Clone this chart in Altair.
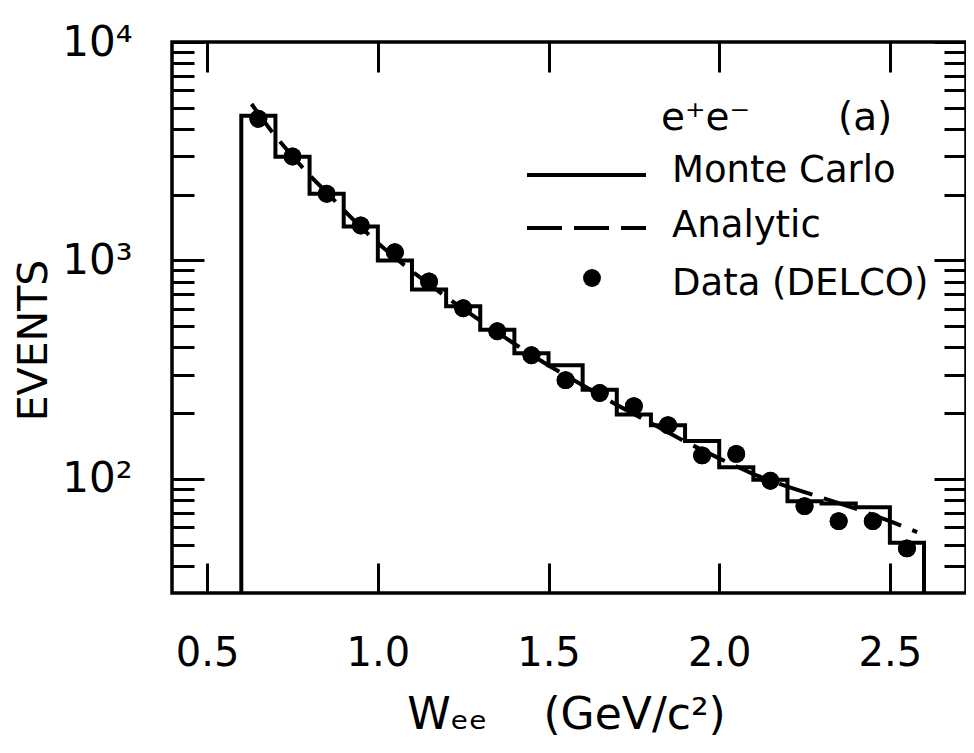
import altair as alt
import pandas as pd

# Monte Carlo histogram: bin lower edges and counts (bin width 0.1)
mc_bin_lo = [0.6, 0.7, 0.8, 0.9, 1.0, 1.1, 1.2, 1.3, 1.4, 1.5,
             1.6, 1.7, 1.8, 1.9, 2.0, 2.1, 2.2, 2.3, 2.4, 2.5]
mc_counts = [4590, 2985, 2020, 1430, 1000, 735, 617, 481, 376, 331,
             256, 197, 176, 149, 113, 99, 79, 77, 74, 51]
mc_end = 2.6
hist_floor = 30

# Analytic curve
ana_x = [0.63, 0.65, 0.7, 0.75, 0.8, 0.85, 0.9, 0.95, 1.0, 1.05, 1.1, 1.15, 1.2,
         1.3, 1.4, 1.5, 1.6, 1.7, 1.8, 1.9, 2.0, 2.1, 2.2, 2.3, 2.4, 2.5, 2.58]
ana_y = [5200, 4700, 3700, 3000, 2450, 2050, 1700, 1420, 1200, 1030, 890, 780, 680,
         530, 415, 330, 268, 218, 180, 148, 124, 105, 92, 82, 73, 64, 57]

# Data (DELCO)
data_x = [0.65, 0.75, 0.85, 0.95, 1.05, 1.15, 1.25, 1.35, 1.45, 1.55,
          1.65, 1.75, 1.85, 1.95, 2.05, 2.15, 2.25, 2.35, 2.45, 2.55]
data_y = [4450, 2990, 2020, 1445, 1090, 800, 604, 474, 368, 283,
          247, 215, 176, 128, 130, 98, 75, 64, 64, 48]

x_domain = [0.397, 2.723]
y_domain = [30, 10000]
x_ticks = [0.5, 1.0, 1.5, 2.0, 2.5]
y_major = [100, 1000, 10000]
y_minor = [40, 50, 60, 70, 80, 90, 200, 300, 400, 500, 600, 700, 800, 900,
           2000, 3000, 4000, 5000, 6000, 7000, 8000, 9000]

# build step outline
rows = [{"x": mc_bin_lo[0], "y": hist_floor}]
for lo, c in zip(mc_bin_lo, mc_counts):
    rows.append({"x": lo, "y": c})
rows.append({"x": mc_end, "y": mc_counts[-1]})
rows.append({"x": mc_end, "y": hist_floor})
for i, r in enumerate(rows):
    r["i"] = i
hist_df = pd.DataFrame(rows)
ana_df = pd.DataFrame({"x": ana_x, "y": ana_y})
data_df = pd.DataFrame({"x": data_x, "y": data_y})

FONT = "DejaVu Sans"
NB = "\u00a0"
xs = alt.Scale(type="linear", domain=x_domain, nice=False, zero=False)
ys = alt.Scale(type="log", domain=y_domain, nice=False)

ax_bottom = alt.Axis(orient="bottom", values=x_ticks, format=".1f", tickSize=30, offset=-30,
                     labelPadding=40, labelFontSize=40, labelFont=FONT,
                     title="Wₑₑ" + NB * 4 + "(GeV/c²)", titleFontSize=44, titleFont=FONT,
                     titleFontWeight="normal", titleX=394, titleY=165,
                     titleBaseline="alphabetic", titleAlign="center")
ax_top = alt.Axis(orient="top", values=x_ticks, tickSize=30, offset=-30,
                  labels=False, title=None)
ax_left_major = alt.Axis(orient="left", values=y_major, tickSize=32, offset=-32,
                         labelPadding=40, labelFontSize=42, labelFont=FONT,
                         labelBaseline="middle",
                         labelExpr="datum.value >= 9999 ? '10⁴' : datum.value >= 999 ? '10³' : '10²'",
                         title="EVENTS", titleFontSize=41, titleFont=FONT,
                         titleFontWeight="normal", titleAngle=270,
                         titleX=-170, titleY=298, titleBaseline="middle",
                         titleAlign="center")
ax_left_minor = alt.Axis(orient="left", values=y_minor, tickSize=22, offset=-22,
                         labels=False, title=None)
ax_right_major = alt.Axis(orient="right", values=y_major, tickSize=32, offset=-32,
                          labels=False, title=None)
ax_right_minor = alt.Axis(orient="right", values=y_minor, tickSize=22, offset=-22,
                          labels=False, title=None)

hist = alt.Chart(hist_df).mark_line(
    interpolate="step-after", color="black", strokeWidth=4, clip=True
).encode(
    x=alt.X("x:Q", scale=xs, axis=ax_bottom),
    y=alt.Y("y:Q", scale=ys, axis=ax_left_major),
    order="i:Q",
)

ana = alt.Chart(ana_df).mark_line(
    color="black", strokeWidth=4, strokeDash=[35, 12], clip=True
).encode(
    x=alt.X("x:Q", scale=xs, axis=ax_top),
    y=alt.Y("y:Q", scale=ys, axis=ax_left_minor),
)

pts = alt.Chart(data_df).mark_circle(color="black", opacity=1, size=320).encode(
    x=alt.X("x:Q", scale=xs, axis=None),
    y=alt.Y("y:Q", scale=ys, axis=ax_right_major),
)
pts2 = alt.Chart(data_df).mark_circle(color="black", opacity=1, size=320).encode(
    x=alt.X("x:Q", scale=xs, axis=None),
    y=alt.Y("y:Q", scale=ys, axis=ax_right_minor),
)

def label(text, x, y, size=37, align="left"):
    return alt.Chart(pd.DataFrame({"t": [text]})).mark_text(
        font=FONT, fontSize=size, align=align, baseline="alphabetic", color="black"
    ).encode(text="t:N", x=alt.value(x), y=alt.value(y))

leg_head1 = label("e⁺e⁻", 489, 88, 39)
leg_head2 = label("(a)", 666, 88, 39)
leg_mc = label("Monte Carlo", 500, 140)
leg_an = label("Analytic", 500, 195)
leg_da = label("Data (DELCO)", 500, 253)

leg_line = alt.Chart(pd.DataFrame({"k": [0]})).mark_rule(
    color="black", strokeWidth=4
).encode(x=alt.value(355), x2=alt.value(474), y=alt.value(133))
leg_dash = alt.Chart(pd.DataFrame({"k": [0]})).mark_rule(
    color="black", strokeWidth=4, strokeDash=[35, 12]
).encode(x=alt.value(355), x2=alt.value(474), y=alt.value(186))
leg_dot = alt.Chart(pd.DataFrame({"k": [0]})).mark_circle(
    color="black", opacity=1, size=320
).encode(x=alt.value(420), y=alt.value(236))

chart = alt.layer(
    hist, ana, pts, pts2,
    leg_head1, leg_head2, leg_mc, leg_an, leg_da, leg_line, leg_dash, leg_dot
).resolve_axis(
    x="independent", y="independent"
).properties(
    width=794, height=551,
    padding={"left": 164, "top": 34, "right": 0, "bottom": 147},
    autosize=alt.AutoSizeParams(type="none"),
    background="white",
).configure_view(
    stroke="black", strokeWidth=3.5
).configure_axis(
    grid=False, domain=False, tickColor="black", tickWidth=3,
    labelColor="black", titleColor="black"
)

chart.save("out.html", embed_options={"renderer": "svg", "actions": False})
